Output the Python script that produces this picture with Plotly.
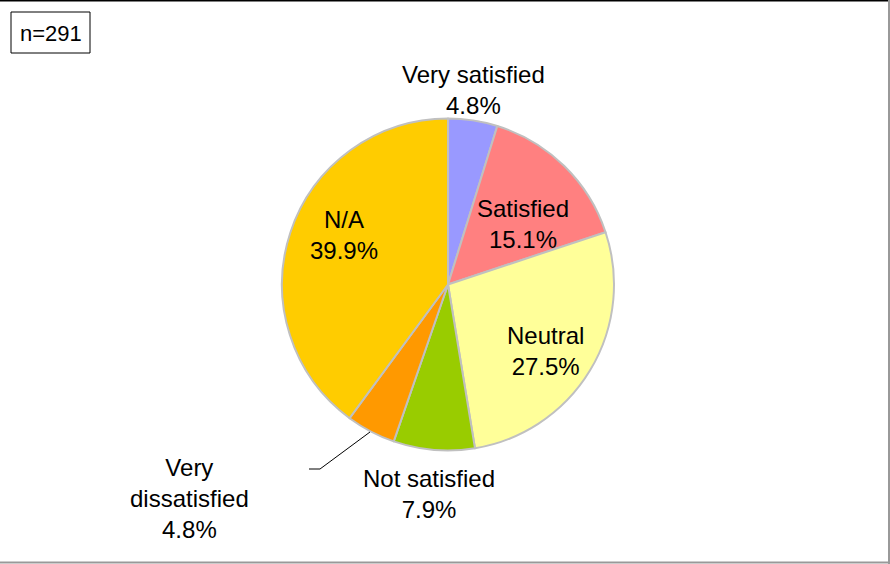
import plotly.graph_objects as go

categories = ["Very satisfied", "Satisfied", "Neutral", "Not satisfied", "Very dissatisfied", "N/A"]
values = [4.8, 15.1, 27.5, 7.9, 4.8, 39.9]
colors = ["#9999FF", "#FF8080", "#FFFF99", "#99CC00", "#FF9900", "#FFCC00"]
sample_label = "n=291"

W, H = 890, 564
FONT = "Liberation Sans"

def px(x):
    return x / W

def py(y):
    return 1 - y / H

fig = go.Figure(go.Pie(
    labels=categories, values=values, sort=False, direction="clockwise", rotation=0,
    marker=dict(colors=colors, line=dict(color="#C0C0C0", width=2)),
    textinfo="none", hoverinfo="label+percent", showlegend=False,
    domain=dict(x=[px(282), px(614)], y=[py(451), py(118)]),
))

# label block centres in px
label_pos = {
    "Very satisfied": (473, 90),
    "Satisfied": (523, 224),
    "Neutral": (545, 351),
    "Not satisfied": (429, 494),
    "Very dissatisfied": (189, 498),
    "N/A": (344, 235),
}

annotations = []
for cat, val in zip(categories, values):
    x, y = label_pos[cat]
    if cat == "Very dissatisfied":
        text = f"Very<br>dissatisfied<br>{val:.1f}%"
    else:
        text = f"{cat}<br>{val:.1f}%"
    annotations.append(dict(x=px(x), y=py(y), xref="paper", yref="paper", text=text,
                            showarrow=False, xanchor="center", yanchor="middle", align="center",
                            font=dict(family=FONT, size=24, color="#000000")))

annotations.append(dict(x=px(50.5), y=py(33), xref="paper", yref="paper", text=sample_label,
                        showarrow=False, xanchor="center", yanchor="middle",
                        font=dict(family=FONT, size=22, color="#000000")))

shapes = [
    dict(type="rect", xref="paper", yref="paper", x0=px(11), x1=px(90), y0=py(53), y1=py(12),
         line=dict(color="#000000", width=1)),
    dict(type="line", xref="paper", yref="paper", x0=0, x1=1, y0=py(0.5), y1=py(0.5),
         line=dict(color="#000000", width=2)),
    dict(type="line", xref="paper", yref="paper", x0=px(889), x1=px(889), y0=0, y1=1,
         line=dict(color="#999999", width=2)),
    dict(type="line", xref="paper", yref="paper", x0=0, x1=1, y0=py(562.5), y1=py(562.5),
         line=dict(color="#999999", width=2)),
    dict(type="path", xref="paper", yref="paper",
         path=f"M {px(309)} {py(469)} L {px(320)} {py(469)} L {px(370)} {py(432)}",
         line=dict(color="#000000", width=1)),
]

fig.update_layout(
    width=W, height=H, margin=dict(l=0, r=0, t=0, b=0),
    paper_bgcolor="#FFFFFF", plot_bgcolor="#FFFFFF",
    annotations=annotations, shapes=shapes,
)

fig.write_html("out.html", config={"displayModeBar": False},
               post_script="document.body.style.margin='0';document.body.style.overflow='hidden';")
